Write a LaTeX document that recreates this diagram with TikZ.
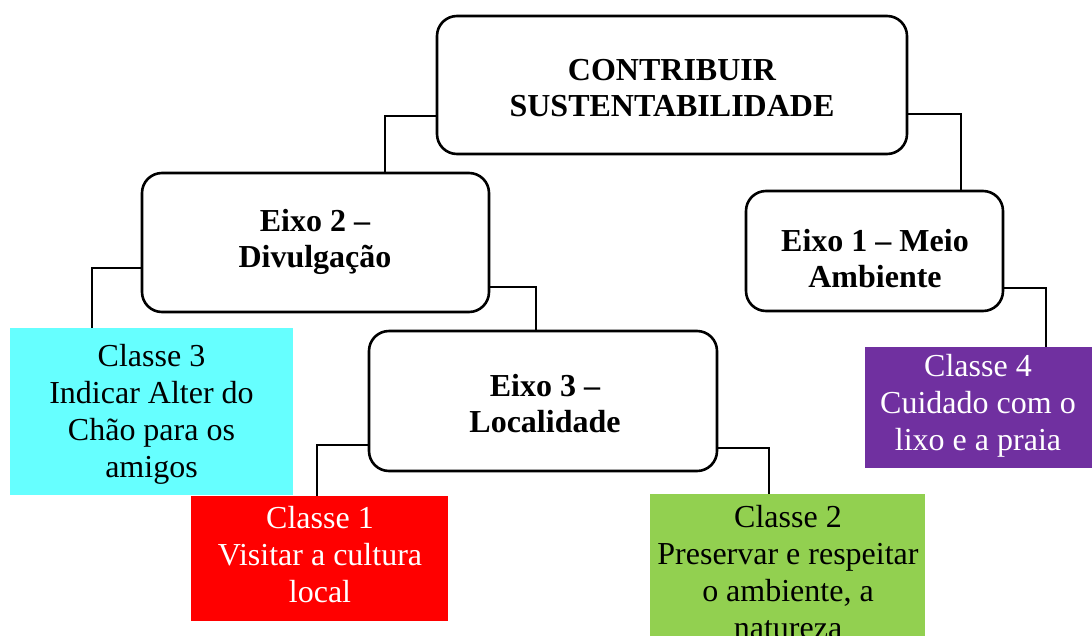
\documentclass[tikz,border=0pt]{standalone}
\usepackage{fontspec}
\setmainfont{Liberation Serif}
\definecolor{cyanbox}{HTML}{66FFFF}
\definecolor{redbox}{HTML}{FF0000}
\definecolor{greenbox}{HTML}{92D050}
\definecolor{purplebox}{HTML}{7030A0}
\begin{document}
\begin{tikzpicture}[x=1pt,y=-1pt,
  axisbox/.style={draw=black, line width=2.6pt, rounded corners=20pt, fill=white, inner sep=0pt, outer sep=0pt},
  classbox/.style={draw=none, inner sep=0pt, outer sep=0pt},
  boldtxt/.style={inner sep=0pt, align=center, font=\fontsize{32}{36}\selectfont\bfseries},
  regtxt/.style={inner sep=0pt, align=center, font=\fontsize{32}{37}\selectfont},
  link/.style={draw=black, line width=1.1pt}]
\useasboundingbox (0,0) rectangle (1092,635);
% boxes
\node[axisbox, minimum width=470pt, minimum height=138pt] (root) at (672,85) {};
\node[axisbox, minimum width=347pt, minimum height=139pt] (e2) at (315.5,242.5) {};
\node[axisbox, minimum width=257pt, minimum height=120pt] (e1) at (874.5,251) {};
\node[axisbox, minimum width=348pt, minimum height=140pt] (e3) at (543,401) {};
\node[classbox, fill=cyanbox, minimum width=283pt, minimum height=167pt] (c3) at (151.5,411.5) {};
\node[classbox, fill=redbox, minimum width=257pt, minimum height=125pt] (c1) at (319.5,558.5) {};
\node[classbox, fill=greenbox, minimum width=275pt, minimum height=153pt] (c2) at (787.5,570.5) {};
\node[classbox, fill=purplebox, minimum width=227pt, minimum height=121pt] (c4) at (978.5,407.5) {};
% texts
\node[boldtxt] (roott) at (672,88) {CONTRIBUIR\\SUSTENTABILIDADE};
\node[boldtxt] (e2t) at (315,242) {Eixo 2 --\\Divulgação};
\node[boldtxt] (e1t) at (875,259) {Eixo 1 -- Meio\\Ambiente};
\node[boldtxt] (e3t) at (545,404) {Eixo 3 --\\Localidade};
\node[regtxt] (c3t) at (151.5,414) {Classe 3\\Indicar Alter do\\Chão para os\\amigos};
\node[regtxt, text=white] (c1t) at (320,555) {Classe 1\\Visitar a cultura\\local};
\node[regtxt] (c2t) at (788,572) {Classe 2\\Preservar e respeitar\\o ambiente, a\\natureza};
\node[regtxt, text=white] (c4t) at (978,406) {Classe 4\\Cuidado com o\\lixo e a praia};
% connectors
\draw[link] ([yshift=-31pt]root.west) -| ([xshift=69.5pt]e2.north);
\draw[link] ([yshift=-29pt]root.east) -| ([xshift=86.5pt]e1.north);
\draw[link] ([yshift=-25.5pt]e2.west) -| ([xshift=-59.5pt]c3.north);
\draw[link] ([yshift=-44.5pt]e2.east) -| ([xshift=-7pt]e3.north);
\draw[link] ([yshift=-37pt]e1.east) -| ([xshift=67.5pt]c4.north);
\draw[link] ([yshift=-44pt]e3.west) -| ([xshift=-2.5pt]c1.north);
\draw[link] ([yshift=-47pt]e3.east) -| ([xshift=-18.5pt]c2.north);
\end{tikzpicture}
\end{document}
